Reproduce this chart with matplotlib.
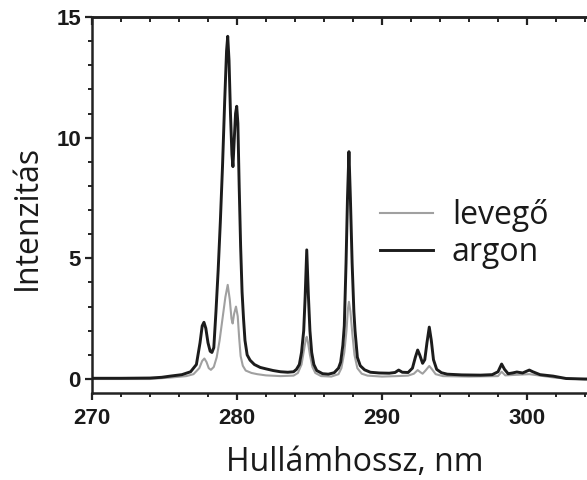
import matplotlib
matplotlib.use("Agg")
import matplotlib.pyplot as plt
from matplotlib.ticker import MultipleLocator

# ---- data ----
argon_x = [270.0, 272.0, 274.0, 274.8, 275.4, 276.2, 276.8, 277.2, 277.45, 277.6, 277.72,
           277.85, 278.0, 278.15, 278.27, 278.4, 278.55, 278.7, 278.85, 279.0, 279.15,
           279.28, 279.36, 279.45, 279.55, 279.65, 279.72, 279.8, 279.9, 279.98, 280.06,
           280.15, 280.25, 280.35, 280.45, 280.55, 280.7, 280.9, 281.2, 281.6, 282.0,
           282.5, 283.0, 283.5, 283.9, 284.1, 284.3, 284.45, 284.6, 284.7, 284.81,
           284.92, 285.03, 285.15, 285.3, 285.5, 285.9, 286.3, 286.7, 287.0, 287.15,
           287.3, 287.4, 287.52, 287.62, 287.72, 287.82, 287.94, 288.06, 288.14, 288.3,
           288.5, 288.8, 289.2, 289.8, 290.5, 290.9, 291.15, 291.4, 291.8, 292.1,
           292.3, 292.46, 292.6, 292.8, 292.95, 293.1, 293.26, 293.4, 293.55, 293.77,
           294.1, 294.5, 295.5, 296.8, 297.6, 298.0, 298.25, 298.45, 298.7, 299.0,
           299.3, 299.7, 300.0, 300.16, 300.4, 300.9, 301.8, 302.7, 304.0, 306.0]
argon_y = [0.03, 0.03, 0.04, 0.07, 0.12, 0.18, 0.3, 0.6, 1.5, 2.2, 2.35,
           2.1, 1.5, 1.15, 1.1, 1.3, 2.8, 4.5, 6.5, 8.8, 11.5,
           13.6, 14.2, 13.2, 11.0, 9.3, 8.8, 9.8, 11.0, 11.3, 10.6,
           8.0, 5.5, 3.6, 2.5, 1.6, 1.0, 0.78, 0.6, 0.48, 0.42,
           0.35, 0.3, 0.28, 0.3, 0.4, 0.6, 1.1, 2.0, 3.4, 5.35,
           3.5, 2.0, 1.1, 0.6, 0.35, 0.22, 0.2, 0.26, 0.45, 0.7,
           1.4, 2.2, 4.8, 7.5, 9.42, 7.5, 4.8, 2.8, 2.0, 0.9,
           0.55, 0.38, 0.28, 0.25, 0.24, 0.27, 0.37, 0.28, 0.27, 0.45,
           0.9, 1.2, 1.0, 0.65, 0.8, 1.5, 2.15, 1.6, 0.8, 0.4,
           0.26, 0.2, 0.17, 0.16, 0.18, 0.3, 0.62, 0.4, 0.22, 0.25,
           0.29, 0.25, 0.33, 0.37, 0.3, 0.18, 0.12, 0.02, 0.0, 0.0]

levego_x = [270.0, 274.0, 275.4, 276.5, 277.0, 277.4, 277.6, 277.75, 277.9, 278.05,
            278.2, 278.4, 278.6, 278.8, 279.0, 279.2, 279.36, 279.5, 279.62, 279.7,
            279.8, 279.93, 280.05, 280.15, 280.25, 280.4, 280.6, 281.0, 281.4, 282.0,
            283.0, 283.9, 284.2, 284.45, 284.62, 284.75, 284.81, 284.9, 285.03, 285.2,
            285.4, 285.8, 286.5, 287.0, 287.2, 287.4, 287.55, 287.65, 287.72, 287.82,
            287.95, 288.1, 288.3, 288.6, 289.0, 290.0, 291.0, 291.8, 292.2, 292.46,
            292.65, 292.8, 293.0, 293.26, 293.45, 293.7, 294.2, 296.0, 298.0, 298.25,
            298.5, 300.16, 302.0, 304.0, 306.0]
levego_y = [0.0, 0.0, 0.06, 0.12, 0.2, 0.45, 0.75, 0.85, 0.7, 0.45,
            0.38, 0.5, 0.9, 1.6, 2.5, 3.4, 3.9, 3.3, 2.5, 2.3,
            2.7, 3.0, 2.6, 1.7, 0.95, 0.55, 0.35, 0.25, 0.2, 0.15,
            0.12, 0.14, 0.25, 0.6, 1.2, 1.65, 1.75, 1.5, 1.0, 0.5,
            0.25, 0.12, 0.1, 0.2, 0.45, 1.1, 2.0, 2.9, 3.2, 2.8,
            1.9, 1.0, 0.45, 0.22, 0.14, 0.1, 0.12, 0.14, 0.22, 0.37,
            0.28, 0.22, 0.35, 0.54, 0.4, 0.2, 0.12, 0.1, 0.12, 0.3,
            0.15, 0.2, 0.05, -0.02, -0.02]

x_major = [270, 280, 290, 300]
y_major = [0, 5, 10, 15]
labels = ["levegő", "argon"]
xlabel = "Hullámhossz, nm"
ylabel = "Intenzitás"

# ---- figure ----
W, H = 587, 480
fig = plt.figure(figsize=(W / 100, H / 100), dpi=100)
ax = fig.add_axes([92 / W, 1 - 393 / H, 522 / W, 376 / H])

ax.plot(levego_x, levego_y, color="#a0a0a0", lw=1.5, label=labels[0], zorder=2)
ax.plot(argon_x, argon_y, color="#1c1c1c", lw=2.1, label=labels[1], zorder=3)

ax.set_xlim(270, 306)
ax.set_ylim(-0.58, 15)

ax.set_xticks(x_major)
ax.set_yticks(y_major)
ax.xaxis.set_minor_locator(MultipleLocator(2))
ax.yaxis.set_minor_locator(MultipleLocator(1))

for sp in ["left", "bottom", "top"]:
    ax.spines[sp].set_linewidth(1.8)
    ax.spines[sp].set_color("#222222")
ax.spines["right"].set_visible(False)

ax.tick_params(which="major", direction="out", length=5, width=1.6, color="#222222")
ax.tick_params(which="minor", direction="out", length=3, width=1.4, color="#222222")
ax.tick_params(axis="x", which="major", labelsize=16, pad=6)
ax.tick_params(axis="y", which="major", labelsize=16, pad=3)

for lab in ax.get_xticklabels() + ax.get_yticklabels():
    lab.set_fontfamily("Liberation Sans")
    lab.set_fontweight("bold")
    lab.set_color("#1a1a1a")

# top ticks pointing inward
top = ax.secondary_xaxis("top")
top.set_xticks(x_major)
top.xaxis.set_minor_locator(MultipleLocator(2))
top.tick_params(which="major", direction="in", length=6, width=1.6, color="#222222", labeltop=False)
top.tick_params(which="minor", direction="in", length=3.5, width=1.4, color="#222222")
top.spines["top"].set_linewidth(1.8)
top.spines["top"].set_color("#222222")

label_font = "Open Sans"
ax.set_xlabel(xlabel, fontsize=23, family=label_font, color="#1a1a1a")
ax.xaxis.set_label_coords((355 - 92) / 522, -(446 - 393) / 376)
ax.set_ylabel(ylabel, fontsize=23, family=label_font, color="#1a1a1a", va="center")
ax.yaxis.set_label_coords((27 - 92) / 522, (393 - 217) / 376)

leg = ax.legend(loc="upper left", bbox_to_anchor=((380 - 92) / 522, (393 - 199) / 376),
                frameon=False, prop={"family": label_font, "size": 23},
                handlelength=1.65, handletextpad=0.6, labelspacing=0.12,
                borderaxespad=0, borderpad=0)
for t in leg.get_texts():
    t.set_color("#1a1a1a")

fig.savefig("out.png", dpi=100)
